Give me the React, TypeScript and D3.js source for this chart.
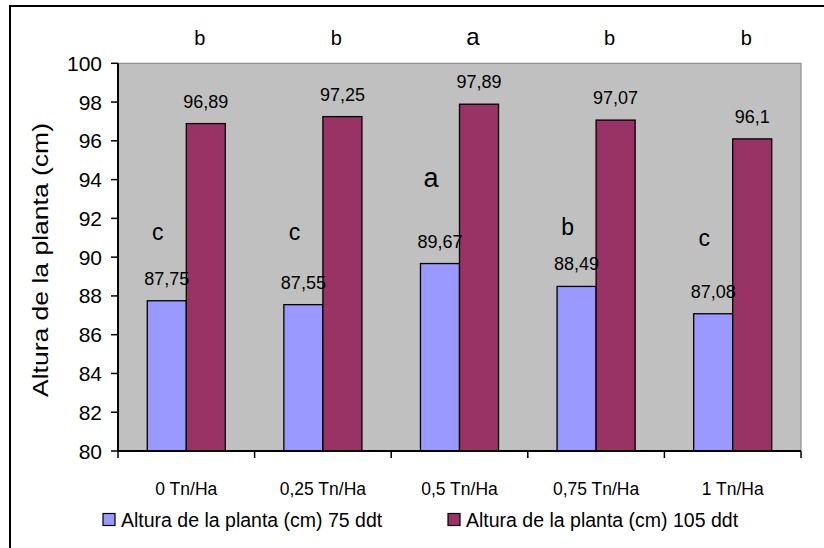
import React from "react";
import * as d3 from "d3";

const categories = ["0 Tn/Ha", "0,25 Tn/Ha", "0,5 Tn/Ha", "0,75 Tn/Ha", "1 Tn/Ha"];
const series = ["Altura de la planta (cm) 75 ddt", "Altura de la planta (cm) 105 ddt"];
const values75 = [87.75, 87.55, 89.67, 88.49, 87.08];
const values105 = [96.89, 97.25, 97.89, 97.07, 96.1];
const letters75 = ["c", "c", "a", "b", "c"];
const letters105 = ["b", "b", "a", "b", "b"];
// vertical placement (in axis units) of the lower significance letters
const letters75Level = [90.9, 90.9, 93.6, 91.15, 90.6];
const yTicks = [80, 82, 84, 86, 88, 90, 92, 94, 96, 98, 100];

const W = 824;
const H = 548;
const plot = { left: 118, right: 801, top: 63.3, bottom: 451 };
const colors = ["#9999FF", "#993366"];
const FONT = "Arial, 'Liberation Sans', sans-serif";

const fmt = (v: number) => String(v).replace(".", ",");

export default function App() {
  const x = d3.scaleBand<string>().domain(categories).range([plot.left, plot.right]).paddingInner(0).paddingOuter(0);
  const inner = d3
    .scaleBand<string>()
    .domain(["0", "1"])
    .range([0, x.bandwidth()])
    .paddingInner(0)
    .paddingOuter(0.75);
  const y = d3.scaleLinear().domain([80, 100]).range([plot.bottom, plot.top]);
  const data = [values75, values105];
  const bw = inner.bandwidth();
  const boundaries = [...categories.map((c) => x(c) as number), plot.right];

  return (
    <svg
      width={W}
      height={H}
      style={{ position: "absolute", left: 0, top: 0, background: "#fff" }}
      fontFamily={FONT}
    >
      <rect x={0} y={0} width={W} height={H} fill="#fff" />
      {/* outer chart border */}
      <rect x={10} y={6} width={W + 10} height={H + 10} fill="none" stroke="#000" strokeWidth={2} />
      {/* plot area */}
      <rect
        x={plot.left}
        y={plot.top}
        width={plot.right - plot.left}
        height={plot.bottom - plot.top}
        fill="#C0C0C0"
        stroke="#808080"
        strokeWidth={1}
      />
      {/* bars */}
      {data.map((vals, si) =>
        vals.map((v, i) => {
          const bx = (x(categories[i]) as number) + (inner(String(si)) as number);
          return (
            <rect
              key={`b${si}-${i}`}
              x={bx}
              y={y(v)}
              width={bw}
              height={y(80) - y(v)}
              fill={colors[si]}
              stroke="#000"
              strokeWidth={1.3}
            />
          );
        })
      )}
      {/* value labels */}
      {data.map((vals, si) =>
        vals.map((v, i) => {
          const cx = (x(categories[i]) as number) + (inner(String(si)) as number) + bw / 2;
          return (
            <text
              key={`v${si}-${i}`}
              x={cx}
              y={y(v) - 16}
              textAnchor="middle"
              fontSize={18}
              fill="#000"
            >
              {fmt(v)}
            </text>
          );
        })
      )}
      {/* significance letters, lower series */}
      {letters75.map((l, i) => {
        const cx = (x(categories[i]) as number) + (inner("0") as number) + bw / 2 - 9;
        return (
          <text key={`l75-${i}`} x={cx} y={y(letters75Level[i])} textAnchor="middle" fontSize={l === "a" ? 27 : 23}>
            {l}
          </text>
        );
      })}
      {/* significance letters, upper series */}
      {letters105.map((l, i) => {
        const cx = (x(categories[i]) as number) + (inner("1") as number) + bw / 2 - 6;
        return (
          <text key={`l105-${i}`} x={cx} y={45} textAnchor="middle" fontSize={l === "a" ? 24 : 20}>
            {l}
          </text>
        );
      })}
      {/* y axis */}
      <line x1={plot.left} x2={plot.left} y1={plot.top} y2={plot.bottom} stroke="#000" strokeWidth={2} />
      {yTicks.map((t) => (
        <g key={`yt${t}`}>
          <line x1={plot.left - 7} x2={plot.left} y1={y(t)} y2={y(t)} stroke="#000" strokeWidth={1.5} />
          <text x={102} y={y(t) + 7.5} textAnchor="end" fontSize={21} fill="#000">
            {t}
          </text>
        </g>
      ))}
      {/* x axis */}
      <line x1={plot.left} x2={plot.right} y1={plot.bottom} y2={plot.bottom} stroke="#000" strokeWidth={2} />
      {boundaries.map((bx, i) => (
        <line key={`xt${i}`} x1={bx} x2={bx} y1={plot.bottom} y2={plot.bottom + 7} stroke="#000" strokeWidth={1.5} />
      ))}
      {categories.map((c) => (
        <text key={c} x={(x(c) as number) + x.bandwidth() / 2} y={495} textAnchor="middle" fontSize={17.5}>
          {c}
        </text>
      ))}
      {/* y title */}
      <text
        transform={`translate(48, ${(123 + 397) / 2}) rotate(-90)`}
        textAnchor="middle"
        fontSize={22}
        textLength={274}
        lengthAdjust="spacingAndGlyphs"
      >
        Altura de la planta (cm)
      </text>
      {/* legend */}
      {series.map((s, si) => {
        const lx = si === 0 ? 103 : 448;
        return (
          <g key={s}>
            <rect x={lx} y={513.5} width={12} height={12} fill={colors[si]} stroke="#000" strokeWidth={1.2} />
            <text x={lx + 18} y={527} fontSize={19.5}>
              {s}
            </text>
          </g>
        );
      })}
    </svg>
  );
}
